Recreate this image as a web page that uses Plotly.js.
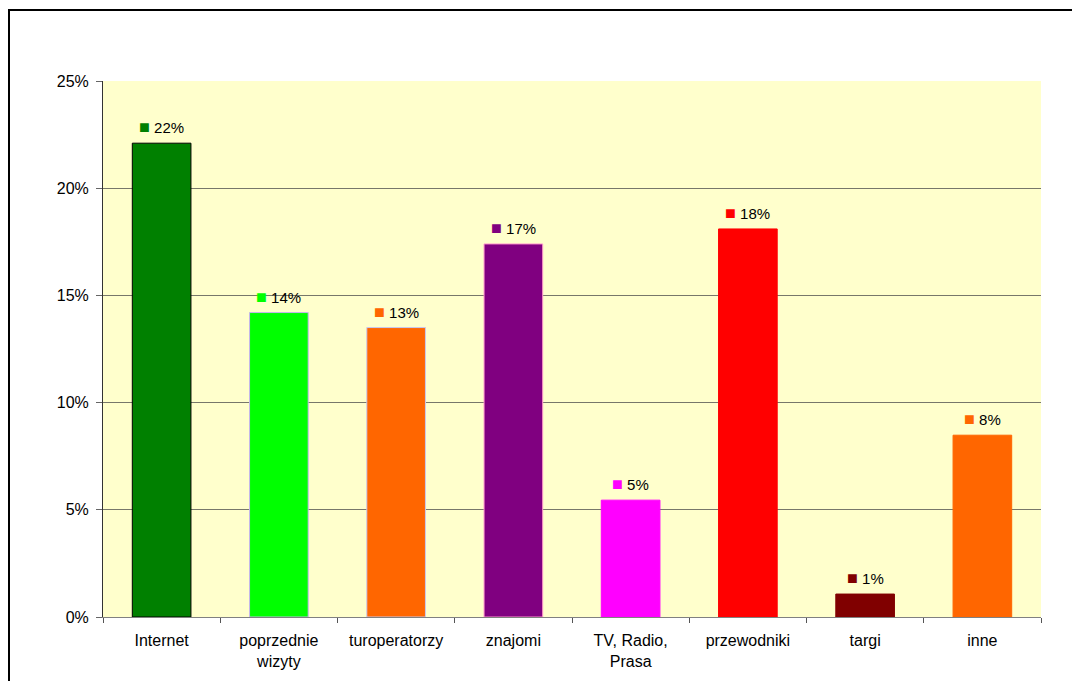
<!DOCTYPE html>
<html>
<head>
<meta charset="utf-8">
<script src="https://cdn.plot.ly/plotly-3.0.1.min.js"></script>
<style>
  html, body { margin: 0; padding: 0; background: #fff; overflow: hidden; }
  #chart { width: 1072px; height: 681px; position: absolute; left: 0; top: 0; }
  #frame { position: absolute; left: 8px; top: 9px; width: 1100px; height: 720px;
           border: 2px solid #000; pointer-events: none; }
</style>
</head>
<body>
<div id="chart"></div>
<div id="frame"></div>
<script>
const categories = ["Internet", "poprzednie<br>wizyty", "turoperatorzy", "znajomi", "TV, Radio,<br>Prasa", "przewodniki", "targi", "inne"];
const values = [0.221, 0.142, 0.135, 0.174, 0.0545, 0.181, 0.0107, 0.0848];
const labels = ["22%", "14%", "13%", "17%", "5%", "18%", "1%", "8%"];
const barColors = ["#008000", "#00FF00", "#FF6600", "#800080", "#FF00FF", "#FF0000", "#800000", "#FF6600"];
const barOutlines = ["#000000", "#C8B4F0", "#C8C8F0", "#FF99CC", "#FF00FF", "#FF0000", "#800000", "#FF6600"];

const trace = {
  type: "bar",
  x: categories,
  y: values,
  marker: { color: barColors, line: { color: barOutlines, width: 1 } },
  width: 0.5,
  hoverinfo: "skip"
};

const annotations = categories.map((c, i) => ({
  x: c, y: values[i], xref: "x", yref: "y",
  yanchor: "bottom", yshift: 4, showarrow: false,
  text: '<span style="color:' + barColors[i] + ';font-size:18px">■</span> ' + labels[i],
  font: { family: "Liberation Sans, Arial, sans-serif", size: 15, color: "#000" }
}));

const layout = {
  width: 1072, height: 681,
  margin: { l: 103, r: 31, t: 81, b: 64, pad: 0 },
  paper_bgcolor: "#ffffff",
  plot_bgcolor: "#FFFFCC",
  showlegend: false,
  font: { family: "Liberation Sans, Arial, sans-serif", size: 16, color: "#000" },
  xaxis: {
    type: "category",
    tickson: "boundaries",
    ticks: "outside", ticklen: 5, tickcolor: "#555",
    showline: true, linecolor: "#808080", linewidth: 1,
    showgrid: false, zeroline: false,
    tickfont: { family: "Liberation Sans, Arial, sans-serif", size: 16, color: "#000" },
    ticklabelstandoff: 9,
    fixedrange: true
  },
  yaxis: {
    range: [0, 0.25],
    tickvals: [0, 0.05, 0.10, 0.15, 0.20, 0.25],
    ticktext: ["0%", "5%", "10%", "15%", "20%", "25%"],
    ticks: "outside", ticklen: 6, tickcolor: "#666",
    showline: true, linecolor: "#333", linewidth: 1,
    showgrid: true, gridcolor: "#77776a", gridwidth: 1,
    zeroline: false,
    tickfont: { family: "Liberation Sans, Arial, sans-serif", size: 16, color: "#000" },
    ticklabelstandoff: 4,
    fixedrange: true
  },
  annotations: annotations
};

Plotly.newPlot("chart", [trace], layout, { displayModeBar: false, staticPlot: true });
</script>
</body>
</html>
